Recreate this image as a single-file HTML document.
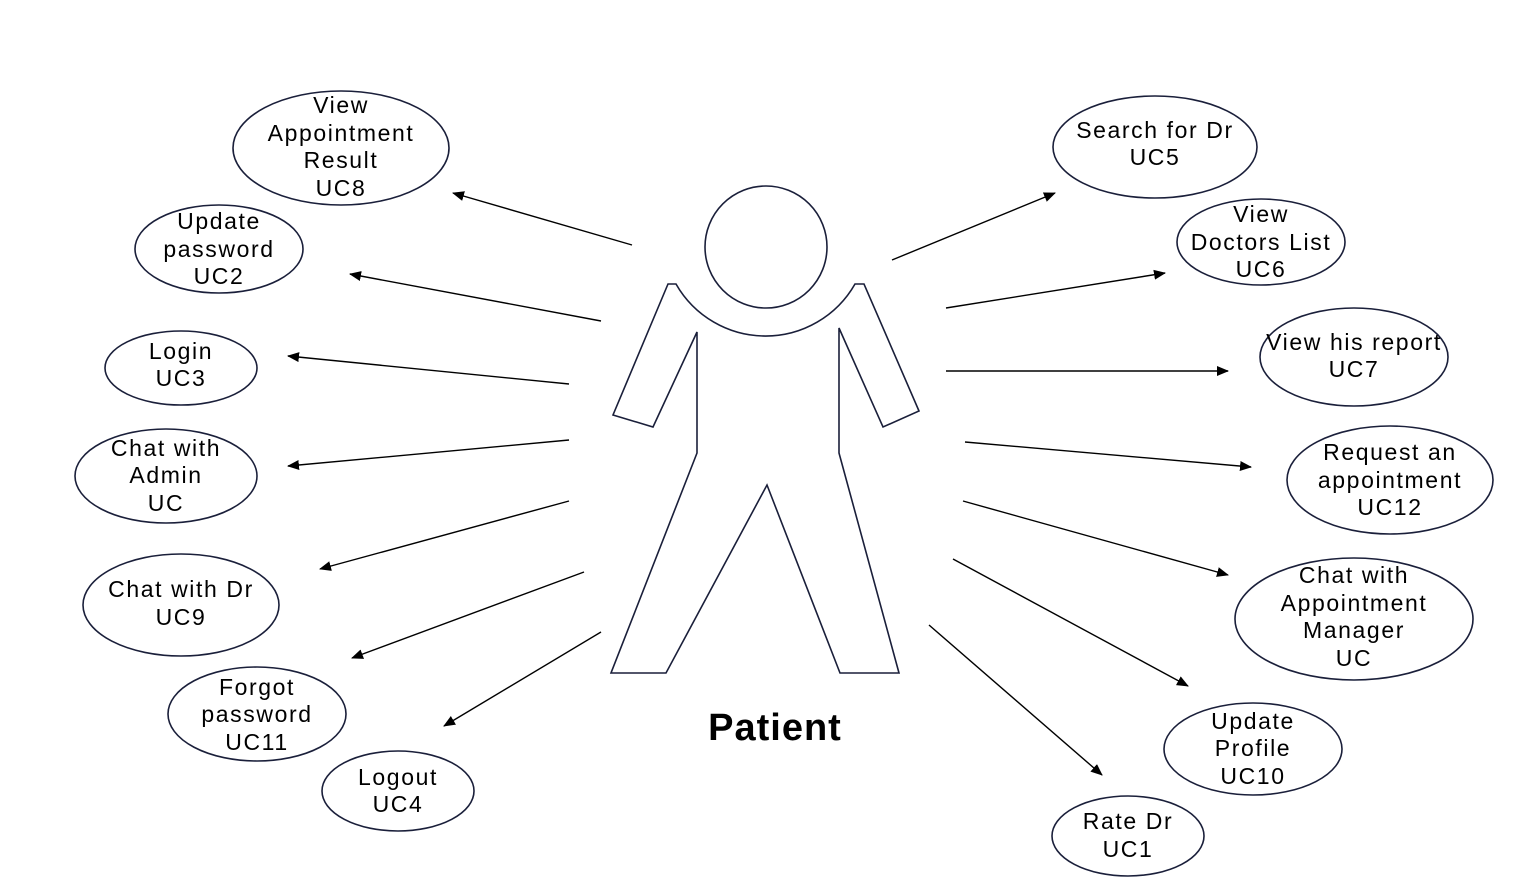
<!DOCTYPE html>
<html><head><meta charset="utf-8"><style>
html,body{margin:0;padding:0;background:#fff;}
svg text{font-family:"Liberation Sans",sans-serif;font-size:23px;letter-spacing:1.6px;fill:#000;text-anchor:middle;}
</style></head><body>
<svg width="1517" height="885" viewBox="0 0 1517 885" xmlns="http://www.w3.org/2000/svg">
<defs><marker id="a" markerWidth="12" markerHeight="10" refX="11" refY="5" orient="auto" markerUnits="userSpaceOnUse"><path d="M0,0 L12,5 L0,10 z" fill="#000"/></marker></defs>
<g fill="#fff" stroke="#1a1f3a" stroke-width="1.6">
<ellipse cx="341" cy="148" rx="108" ry="57"/>
<ellipse cx="219" cy="249" rx="84" ry="44"/>
<ellipse cx="181" cy="368" rx="76" ry="37"/>
<ellipse cx="166" cy="476" rx="91" ry="47"/>
<ellipse cx="181" cy="605" rx="98" ry="51"/>
<ellipse cx="257" cy="714" rx="89" ry="47"/>
<ellipse cx="398" cy="791" rx="76" ry="40"/>
<ellipse cx="1155" cy="147" rx="102" ry="51"/>
<ellipse cx="1261" cy="242" rx="84" ry="43"/>
<ellipse cx="1354" cy="357" rx="94" ry="49"/>
<ellipse cx="1390" cy="480" rx="103" ry="54"/>
<ellipse cx="1354" cy="619" rx="119" ry="61"/>
<ellipse cx="1253" cy="749" rx="89" ry="46"/>
<ellipse cx="1128" cy="836" rx="76" ry="40"/>
<circle cx="766" cy="247" r="61"/>
<path d="M668,284 L613,415 L653,427 L697,332 L697,453 L611,673 L666,673 L767,485 L840,673 L899,673 L839,453 L839,328 L883,427 L919,411 L864,284 L855,284 A103,103 0 0 1 676,284 Z"/>
</g>
<g stroke="#000" stroke-width="1.4" marker-end="url(#a)">
<line x1="632" y1="245" x2="453" y2="193"/>
<line x1="601" y1="321" x2="350" y2="274"/>
<line x1="569" y1="384" x2="288" y2="356"/>
<line x1="569" y1="440" x2="288" y2="466"/>
<line x1="569" y1="501" x2="320" y2="569"/>
<line x1="584" y1="572" x2="352" y2="658"/>
<line x1="601" y1="632" x2="444" y2="726"/>
<line x1="892" y1="260" x2="1055" y2="193"/>
<line x1="946" y1="308" x2="1165" y2="273"/>
<line x1="946" y1="371" x2="1228" y2="371"/>
<line x1="965" y1="442" x2="1251" y2="467"/>
<line x1="963" y1="501" x2="1228" y2="575"/>
<line x1="953" y1="559" x2="1188" y2="686"/>
<line x1="929" y1="625" x2="1102" y2="775"/>
</g>
<text x="341" y="113">View</text><text x="341" y="141">Appointment</text><text x="341" y="168">Result</text><text x="341" y="196">UC8</text>
<text x="219" y="229">Update</text><text x="219" y="257">password</text><text x="219" y="284">UC2</text>
<text x="181" y="359">Login</text><text x="181" y="386">UC3</text>
<text x="166" y="456">Chat with</text><text x="166" y="483">Admin</text><text x="166" y="511">UC</text>
<text x="181" y="597">Chat with Dr</text><text x="181" y="625">UC9</text>
<text x="257" y="695">Forgot</text><text x="257" y="722">password</text><text x="257" y="750">UC11</text>
<text x="398" y="785">Logout</text><text x="398" y="812">UC4</text>
<text x="1155" y="138">Search for Dr</text><text x="1155" y="165">UC5</text>
<text x="1261" y="222">View</text><text x="1261" y="250">Doctors List</text><text x="1261" y="277">UC6</text>
<text x="1354" y="350">View his report</text><text x="1354" y="377">UC7</text>
<text x="1390" y="460">Request an</text><text x="1390" y="488">appointment</text><text x="1390" y="515">UC12</text>
<text x="1354" y="583">Chat with</text><text x="1354" y="611">Appointment</text><text x="1354" y="638">Manager</text><text x="1354" y="666">UC</text>
<text x="1253" y="729">Update</text><text x="1253" y="756">Profile</text><text x="1253" y="784">UC10</text>
<text x="1128" y="829">Rate Dr</text><text x="1128" y="857">UC1</text>
<text x="775" y="740" style="font-size:38px;font-weight:bold;letter-spacing:1px">Patient</text>
</svg>
</body></html>
